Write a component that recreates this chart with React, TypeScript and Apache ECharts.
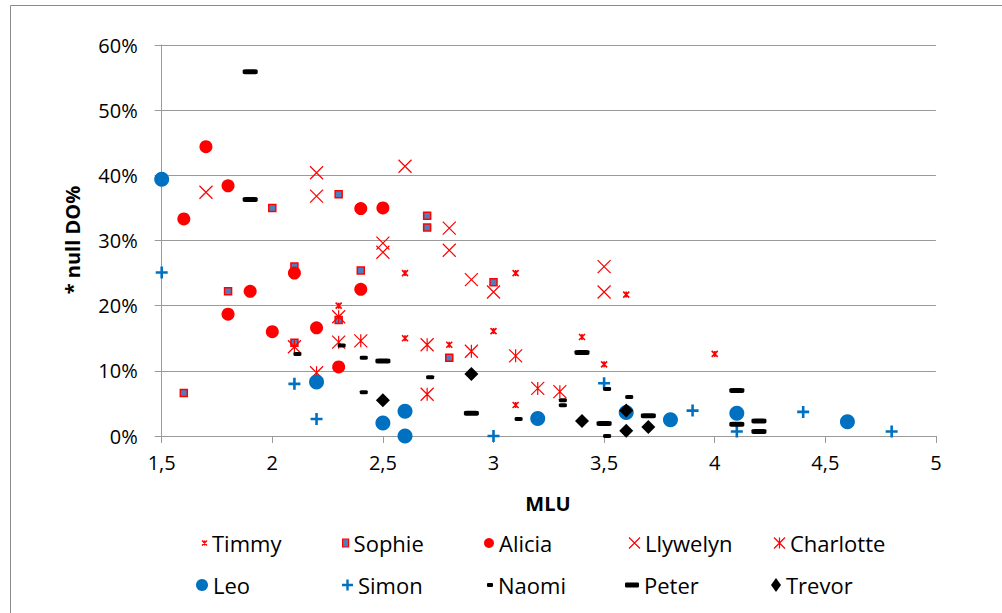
import React, { useEffect, useRef } from "react";
import * as echarts from "echarts";

// MLU (x) and percentage of null DO (y, in %) per child
const timmy: [number, number][] = [
  [2.3, 20], [2.6, 25], [2.6, 15], [2.8, 14], [3.0, 16.1], [3.1, 25],
  [3.1, 4.75], [3.4, 15.2], [3.5, 11], [3.6, 21.7], [4.0, 12.6],
];
const sophie: [number, number][] = [
  [1.6, 6.6], [1.8, 22.2], [2.0, 35], [2.1, 26], [2.1, 14.3], [2.3, 37.1],
  [2.3, 17.8], [2.4, 25.4], [2.7, 33.8], [2.7, 32], [2.8, 12], [3.0, 23.6],
];
const alicia: [number, number][] = [
  [1.6, 33.3], [1.7, 44.4], [1.8, 38.4], [1.8, 18.7], [1.9, 22.2], [2.0, 16],
  [2.1, 25], [2.2, 16.6], [2.3, 10.6], [2.4, 34.9], [2.4, 22.5], [2.5, 35],
];
const llywelyn: [number, number][] = [
  [1.7, 37.4], [2.2, 40.4], [2.2, 36.8], [2.5, 29.6], [2.5, 28.2], [2.6, 41.4],
  [2.8, 31.9], [2.8, 28.5], [2.9, 24], [3.0, 22.1], [3.5, 26], [3.5, 22.1],
];
const charlotte: [number, number][] = [
  [2.1, 13.7], [2.2, 9.7], [2.3, 18.3], [2.3, 14.4], [2.4, 14.6], [2.7, 14],
  [2.7, 6.4], [2.9, 13], [3.1, 12.3], [3.2, 7.3], [3.3, 6.8],
];
const leo: [number, number][] = [
  [1.5, 39.4], [2.2, 8.3], [2.5, 2], [2.6, 3.8], [2.6, 0], [3.2, 2.7],
  [3.6, 3.6], [3.8, 2.5], [4.1, 3.5], [4.6, 2.2],
];
const simon: [number, number][] = [
  [1.5, 25.1], [2.1, 8], [2.2, 2.6], [3.0, 0], [3.5, 8.1], [3.9, 3.9],
  [4.1, 0.7], [4.4, 3.7], [4.8, 0.7],
];
const naomi: [number, number][] = [
  [2.1, 12.6], [2.3, 13.9], [2.4, 12], [2.4, 6.7], [2.7, 9], [3.1, 2.6],
  [3.3, 5.5], [3.3, 4.7], [3.5, 7.2], [3.5, 0], [3.6, 6],
];
const peter: [number, number][] = [
  [1.9, 55.9], [1.9, 36.3], [2.5, 11.5], [2.9, 3.5], [3.4, 12.8], [3.5, 1.9],
  [3.7, 3.1], [4.1, 7], [4.1, 1.8], [4.2, 2.3], [4.2, 0.7],
];
const trevor: [number, number][] = [
  [2.5, 5.5], [2.9, 9.5], [3.4, 2.3], [3.6, 3.9], [3.6, 0.8], [3.7, 1.4],
];

const xTitle = "MLU";
const yTitle = "* null DO%";

const RED = "#FF0000";
const BLUE = "#0070C0";
const BLACK = "#000000";
const AXIS_GRAY = "#9a9a9a";
const FONT = "'Open Sans', 'Liberation Sans', sans-serif";

const X_SHAPE = "path://M0,0L10,10M10,0L0,10";
const STAR_SHAPE = "path://M0,0L10,10M10,0L0,10M5,0L5,10";
const PLUS_SHAPE = "path://M5,0L5,10M0,5L10,5";

type Def = {
  name: string;
  data: [number, number][];
  symbol: string;
  size: number | number[];
  itemStyle: any;
  offset?: number[];
  legend: { cx: number; row: number; w: number; h: number; style: any };
};

const strokeOnly = (color: string, width: number) => ({
  color: "none",
  borderColor: color,
  borderWidth: width,
  opacity: 1,
});

const defs: Def[] = [
  {
    name: "Timmy", data: timmy, symbol: STAR_SHAPE, size: 6,
    itemStyle: strokeOnly(RED, 1.6),
    legend: { cx: 202, row: 0, w: 5, h: 6, style: strokeOnly(RED, 1.4) },
  },
  {
    name: "Sophie", data: sophie, symbol: "rect", size: 7,
    itemStyle: { color: "#4F7EC0", borderColor: RED, borderWidth: 1.5, opacity: 1 },
    legend: { cx: 345, row: 0, w: 6, h: 8, style: { color: "#4F7EC0", borderColor: RED, borderWidth: 1.2 } },
  },
  {
    name: "Alicia", data: alicia, symbol: "circle", size: 13,
    itemStyle: { color: RED, opacity: 1 },
    legend: { cx: 489, row: 0, w: 10, h: 13, style: { color: RED, borderWidth: 0 } },
  },
  {
    name: "Llywelyn", data: llywelyn, symbol: X_SHAPE, size: 13,
    itemStyle: strokeOnly(RED, 1.2),
    legend: { cx: 632, row: 0, w: 11, h: 15, style: strokeOnly(RED, 1.2) },
  },
  {
    name: "Charlotte", data: charlotte, symbol: STAR_SHAPE, size: 13,
    itemStyle: strokeOnly(RED, 1.2),
    legend: { cx: 777, row: 0, w: 11, h: 15, style: strokeOnly(RED, 1.2) },
  },
  {
    name: "Leo", data: leo, symbol: "circle", size: 15,
    itemStyle: { color: BLUE, opacity: 1 },
    legend: { cx: 202, row: 1, w: 12, h: 15, style: { color: BLUE, borderWidth: 0 } },
  },
  {
    name: "Simon", data: simon, symbol: PLUS_SHAPE, size: 12,
    itemStyle: strokeOnly(BLUE, 2.6),
    legend: { cx: 345, row: 1, w: 11, h: 13, style: strokeOnly(BLUE, 2.4) },
  },
  {
    name: "Naomi", data: naomi, symbol: "roundRect", size: [8, 4], offset: [3, 0],
    itemStyle: { color: BLACK, opacity: 1 },
    legend: { cx: 490, row: 1, w: 6, h: 4, style: { color: BLACK, borderWidth: 0 } },
  },
  {
    name: "Peter", data: peter, symbol: "roundRect", size: [15, 5],
    itemStyle: { color: BLACK, opacity: 1 },
    legend: { cx: 632, row: 1, w: 14, h: 5, style: { color: BLACK, borderWidth: 0 } },
  },
  {
    name: "Trevor", data: trevor, symbol: "diamond", size: 14,
    itemStyle: { color: BLACK, opacity: 1 },
    legend: { cx: 776, row: 1, w: 10, h: 14, style: { color: BLACK, borderWidth: 0 } },
  },
];

const LEGEND_ROWS = [543, 585];
const LEGEND_FONT = 22;
const TEXT_START_GAP = 8;

export default function App() {
  const ref = useRef<HTMLDivElement>(null);

  useEffect(() => {
    if (!ref.current) return;
    const chart = echarts.init(ref.current, null, { renderer: "svg" });

    const legends = defs.map((d) => {
      const lh = Math.max(d.legend.h, LEGEND_FONT + 4);
      return {
        data: [d.name],
        left: d.legend.cx - d.legend.w / 2,
        top: LEGEND_ROWS[d.legend.row] - lh / 2,
        padding: 0,
        itemWidth: d.legend.w,
        itemHeight: d.legend.h,
        itemTextGap: TEXT_START_GAP + 7 - d.legend.w / 2,
        selectedMode: false,
        itemStyle: { ...d.legend.style, opacity: 1 },
        textStyle: {
          fontFamily: FONT,
          fontSize: LEGEND_FONT,
          color: "#000",
          lineHeight: lh,
        },
      };
    });

    chart.setOption({
      animation: false,
      backgroundColor: "#ffffff",
      grid: {
        left: 161.7,
        right: 66.1,
        top: 45,
        bottom: 177,
        outerBoundsMode: "none",
      },
      xAxis: {
        type: "value",
        min: 1.5,
        max: 5,
        interval: 0.5,
        axisLine: { show: true, lineStyle: { color: AXIS_GRAY, width: 1 } },
        axisTick: { show: true, length: 7, lineStyle: { color: AXIS_GRAY } },
        splitLine: { show: false },
        axisLabel: {
          formatter: (v: number) => String(v).replace(".", ","),
          fontFamily: FONT,
          fontSize: 20,
          color: "#000",
          margin: 16,
        },
      },
      yAxis: {
        type: "value",
        min: 0,
        max: 60,
        interval: 10,
        axisLine: { show: true, lineStyle: { color: AXIS_GRAY, width: 1 } },
        axisTick: { show: true, length: 7, lineStyle: { color: AXIS_GRAY } },
        splitLine: { show: true, lineStyle: { color: AXIS_GRAY, width: 1 } },
        axisLabel: {
          formatter: "{value}%",
          fontFamily: FONT,
          fontSize: 20,
          color: "#000",
          margin: 24,
        },
      },
      legend: legends,
      graphic: [
        {
          type: "rect",
          shape: { x: 10.5, y: 5.5, width: 1100, height: 700 },
          style: { fill: "none", stroke: "#8a8a8a", lineWidth: 1 },
          silent: true,
          z: -10,
        },
        {
          type: "text",
          x: 548,
          y: 503,
          style: {
            text: xTitle,
            fontFamily: FONT,
            fontWeight: "bold",
            fontSize: 20,
            fill: "#000",
            align: "center",
            verticalAlign: "middle",
          },
        },
        {
          type: "text",
          x: 72,
          y: 240,
          rotation: Math.PI / 2,
          style: {
            text: yTitle,
            fontFamily: FONT,
            fontWeight: "bold",
            fontSize: 20,
            fill: "#000",
            align: "center",
            verticalAlign: "middle",
          },
        },
      ],
      series: defs.map((d) => ({
        name: d.name,
        type: "scatter",
        data: d.data,
        symbol: d.symbol,
        symbolSize: d.size,
        symbolOffset: d.offset || [0, 0],
        itemStyle: d.itemStyle,
        emphasis: { disabled: true },
      })),
    });

    return () => chart.dispose();
  }, []);

  return (
    <div
      ref={ref}
      style={{ position: "absolute", left: 0, top: 0, width: 1002, height: 613 }}
    />
  );
}
